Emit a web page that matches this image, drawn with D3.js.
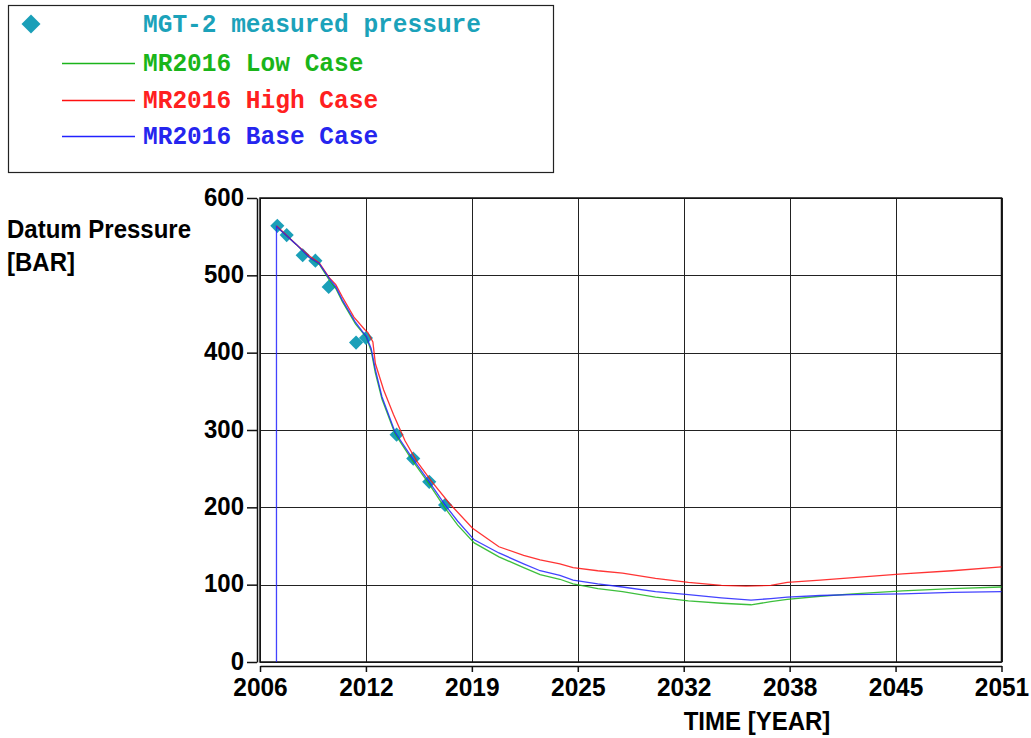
<!DOCTYPE html>
<html>
<head>
<meta charset="utf-8">
<script src="https://cdn.jsdelivr.net/npm/d3@7"></script>
<style>
  body { margin: 0; background: #fff; }
  svg { display: block; }
</style>
</head>
<body>
<div id="chart"></div>
<script>
// measured points [year, bar]
const measured = [
  [2007.05, 564], [2007.62, 552], [2008.59, 526], [2009.36, 519], [2010.17, 485],
  [2011.83, 413], [2012.43, 419], [2014.29, 294], [2015.30, 263], [2016.27, 233], [2017.23, 203]
];

const lowCase = [
  [2007.0, 563], [2008.2, 540], [2009.0, 523], [2009.6, 514], [2010.2, 494], [2010.6, 483],
  [2011.0, 466], [2011.8, 437], [2012.3, 424], [2012.45, 420], [2012.75, 402], [2013.0, 374],
  [2013.4, 340], [2014.2, 295], [2015.2, 262], [2016.3, 229], [2017.2, 200], [2018.0, 177],
  [2019.0, 154], [2020.5, 136], [2022.0, 122], [2023.0, 113], [2024.2, 107], [2025.0, 101],
  [2026.5, 95], [2028.0, 91], [2030.0, 84], [2032.0, 79], [2034.0, 76], [2035.8, 74],
  [2037.0, 78], [2038.0, 81], [2040.0, 85], [2042.0, 88], [2045.0, 92], [2048.0, 95], [2051.0, 97]
];

const highCase = [
  [2007.0, 564], [2008.2, 540], [2009.0, 525], [2009.6, 516], [2010.2, 497], [2010.6, 488],
  [2011.0, 472], [2011.7, 446], [2012.35, 430], [2012.55, 426], [2012.85, 414], [2013.0, 386],
  [2013.5, 352], [2014.1, 320], [2014.8, 286], [2015.5, 260], [2016.4, 234], [2017.5, 205],
  [2018.9, 173], [2020.5, 149], [2022.0, 138], [2023.0, 132], [2024.2, 127], [2025.0, 122],
  [2026.5, 118], [2028.0, 115], [2030.0, 108], [2032.0, 103], [2034.0, 99], [2035.5, 98],
  [2037.0, 99], [2038.0, 103], [2040.0, 106], [2042.0, 109], [2045.0, 114], [2048.0, 118], [2051.0, 123]
];

const baseCase = [
  [2007.0, 0], [2007.0, 563], [2008.2, 540], [2009.0, 523], [2009.6, 515], [2010.2, 496],
  [2010.6, 485], [2011.0, 468], [2011.8, 439], [2012.3, 425], [2012.45, 421], [2012.75, 405],
  [2013.0, 378], [2013.4, 343], [2014.2, 297], [2015.2, 265], [2016.3, 232], [2017.2, 204],
  [2018.0, 182], [2019.0, 158], [2020.5, 141], [2022.0, 127], [2023.0, 118], [2024.2, 112],
  [2025.0, 106], [2026.5, 101], [2028.0, 97], [2030.0, 91], [2032.0, 87], [2034.0, 83],
  [2035.8, 80], [2037.0, 82], [2038.0, 84], [2040.0, 86], [2042.0, 87], [2045.0, 88],
  [2048.0, 90], [2051.0, 91]
];

const yTicks = [0, 100, 200, 300, 400, 500, 600];
const xStart = 2006, xEnd = 2051, xSteps = 7;
const legendLabels = ["MGT-2 measured pressure", "MR2016 Low Case", "MR2016 High Case", "MR2016 Base Case"];

const width = 1031, height = 738;
const plot = { left: 260, right: 1001.5, top: 198, bottom: 662 };
const colors = { measured: "#1a9fb8", low: "#1bb41b", high: "#ff1010", base: "#2222ff" };
const textColors = ["#1ba2ba", "#1ab51a", "#ff2020", "#2525ee"];
const sansFont = "'Liberation Sans', Arial, sans-serif";

const svg = d3.select("#chart").append("svg")
  .attr("width", width)
  .attr("height", height);

const x = d3.scaleLinear().domain([xStart, xEnd]).range([plot.left, plot.right]);
const y = d3.scaleLinear().domain([0, 600]).range([plot.bottom, plot.top]);

const xTicks = d3.range(xSteps + 1).map(i => xStart + i * (xEnd - xStart) / xSteps);

// grid
const grid = svg.append("g").attr("stroke", "#222").attr("stroke-width", 1);
grid.selectAll(null).data(xTicks).enter().append("line")
  .attr("x1", d => Math.round(x(d)) + 0.5).attr("x2", d => Math.round(x(d)) + 0.5)
  .attr("y1", plot.top).attr("y2", plot.bottom);
grid.selectAll(null).data(yTicks).enter().append("line")
  .attr("x1", plot.left).attr("x2", plot.right)
  .attr("y1", d => Math.round(y(d)) + 0.5).attr("y2", d => Math.round(y(d)) + 0.5);

// frame
svg.append("rect")
  .attr("x", plot.left).attr("y", plot.top)
  .attr("width", plot.right - plot.left).attr("height", plot.bottom - plot.top)
  .attr("fill", "none").attr("stroke", "#111").attr("stroke-width", 1.5);

// y axis (offset from the frame)
const yAxis = svg.append("g")
  .attr("transform", `translate(${plot.left - 3},0)`)
  .call(d3.axisLeft(y).tickValues(yTicks).tickSize(10).tickSizeOuter(0).tickPadding(3));
yAxis.select(".domain").attr("stroke", "#111").attr("stroke-width", 1.5);
yAxis.selectAll(".tick line").attr("stroke", "#111").attr("stroke-width", 1.5);
yAxis.selectAll(".tick text")
  .attr("fill", "#000")
  .attr("dy", null)
  .attr("transform", "translate(0,7) scale(1,1.1)")
  .style("font-family", sansFont)
  .style("font-weight", "bold")
  .style("font-size", "24px");

// x axis
const xAxis = svg.append("g")
  .attr("transform", `translate(0,${plot.bottom + 4})`)
  .call(d3.axisBottom(x).tickValues(xTicks).tickFormat(d => Math.round(d)).tickSize(6).tickSizeOuter(0).tickPadding(7));
xAxis.select(".domain").attr("stroke", "#111").attr("stroke-width", 1.5);
xAxis.selectAll(".tick line").attr("stroke", "#111").attr("stroke-width", 1.5);
xAxis.selectAll(".tick text")
  .attr("fill", "#000")
  .attr("dy", null)
  .attr("y", 0)
  .attr("transform", "translate(0,30) scale(1,1.08)")
  .style("font-family", sansFont)
  .style("font-weight", "bold")
  .style("font-size", "24.5px");

// axis titles
const titles = [
  { text: "Datum Pressure", x: 7, y: 238, anchor: "start" },
  { text: "[BAR]", x: 7, y: 271, anchor: "start" },
  { text: "TIME [YEAR]", x: 757, y: 730, anchor: "middle" }
];
svg.append("g").selectAll("text").data(titles).enter().append("text")
  .attr("transform", d => `translate(${d.x},${d.y}) scale(1,1.1)`)
  .attr("text-anchor", d => d.anchor)
  .attr("fill", "#000")
  .style("font-family", sansFont)
  .style("font-weight", "bold")
  .style("font-size", "24px")
  .text(d => d.text);

// measured diamonds (drawn under the lines)
const diamond = d3.symbol().type(d3.symbolSquare).size(100);
svg.append("g").selectAll("path").data(measured).enter().append("path")
  .attr("d", diamond)
  .attr("transform", d => `translate(${x(d[0])},${y(d[1])}) rotate(45)`)
  .attr("fill", colors.measured);

// simulation lines
const line = d3.line().x(d => x(d[0])).y(d => y(d[1]));
const series = [
  { data: lowCase, color: colors.low },
  { data: highCase, color: colors.high },
  { data: baseCase, color: colors.base }
];
svg.append("g").selectAll("path").data(series).enter().append("path")
  .attr("d", d => line(d.data))
  .attr("fill", "none")
  .attr("stroke", d => d.color)
  .attr("stroke-width", 1.3)
  .attr("stroke-opacity", 0.85);

// legend
svg.append("rect")
  .attr("x", 8.5).attr("y", 5.5).attr("width", 545).attr("height", 167)
  .attr("fill", "#fff").attr("stroke", "#222").attr("stroke-width", 1.2);

const rowY = [24, 63, 100, 136];
svg.append("path")
  .attr("d", d3.symbol().type(d3.symbolSquare).size(180))
  .attr("transform", `translate(31,${rowY[0]}) rotate(45)`)
  .attr("fill", colors.measured);

const legendLines = [
  { y: rowY[1], color: colors.low },
  { y: rowY[2], color: colors.high },
  { y: rowY[3], color: colors.base }
];
svg.append("g").selectAll("line").data(legendLines).enter().append("line")
  .attr("x1", 62).attr("x2", 135)
  .attr("y1", d => d.y + 0.5).attr("y2", d => d.y + 0.5)
  .attr("stroke", d => d.color)
  .attr("stroke-width", 1.3);

svg.append("g").selectAll("text").data(legendLabels).enter().append("text")
  .attr("transform", (d, i) => `translate(143,${rowY[i] + 8}) scale(1,1.08)`)
  .attr("fill", (d, i) => textColors[i])
  .style("font-family", "'Liberation Mono', 'Courier New', monospace")
  .style("font-weight", "bold")
  .style("font-size", "24.5px")
  .text(d => d);
</script>
</body>
</html>
